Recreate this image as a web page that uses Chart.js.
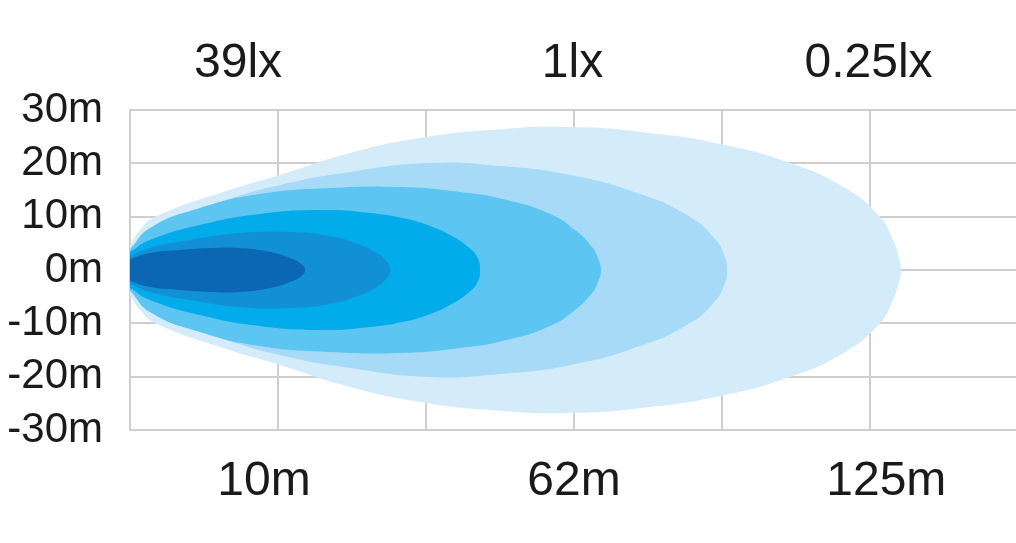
<!DOCTYPE html>
<html>
<head>
<meta charset="utf-8">
<script src="https://cdn.jsdelivr.net/npm/chart.js@4/dist/chart.umd.min.js"></script>
<style>
  html, body { margin: 0; padding: 0; background: #fff; overflow: hidden; }
  #wrap { width: 1030px; height: 543px; }
</style>
</head>
<body>
<div id="wrap"><canvas id="beam" width="1030" height="543"></canvas></div>
<script>
// Beam pattern: x in grid cells (0..6), y = half width in metres
// each zone is [distance, halfWidth] along the top edge, mirrored below
const zone1 = [[0, 2.06], [0.135, 3.19], [0.338, 3.75], [0.541, 4.13], [0.743, 4.13], [0.946, 3.38], [1.081, 2.25], [1.149, 1.31], [1.182, 0]];
const zone2 = [[0, 2.63], [0.135, 4.13], [0.405, 5.63], [0.743, 6.94], [1.081, 7.13], [1.351, 6.38], [1.52, 5.06], [1.655, 3.38], [1.73, 1.69], [1.757, 0]];
const zone3 = [[0, 3.38], [0.135, 5.63], [0.473, 8.44], [0.878, 10.5], [1.284, 11.25], [1.622, 10.69], [1.872, 9.56], [2.027, 8.25], [2.162, 6.56], [2.284, 4.31], [2.345, 2.44], [2.365, 0]];
const zone4 = [[0, 3.75], [0.135, 7.88], [0.473, 11.63], [0.878, 14.25], [1.351, 15.38], [1.824, 15.56], [2.23, 14.63], [2.547, 13.13], [2.838, 10.5], [3.007, 7.5], [3.122, 4.31], [3.162, 2.25], [3.182, 0]];
const zone5 = [[0, 4.13], [0.155, 8.06], [0.608, 12.75], [1.014, 15.94], [1.486, 18.38], [2.027, 20.06], [2.5, 19.5], [2.973, 17.81], [3.446, 14.25], [3.784, 9.94], [3.953, 5.81], [4.014, 2.81], [4.034, 0]];
const zone6 = [[0, 4.69], [0.068, 7.5], [0.169, 9.94], [0.608, 14.44], [1.014, 17.81], [1.486, 21.94], [1.959, 24.75], [2.432, 26.25], [2.973, 26.81], [3.514, 25.69], [3.986, 23.63], [4.459, 20.06], [4.831, 15.38], [5.068, 9.94], [5.155, 5.63], [5.196, 2.25], [5.209, 0]];

const zoneColors = ['#0b67b4', '#1190d5', '#02abe9', '#5cc5f1', '#a7daf6', '#d4ebfa'];

const luxTicks = [0.73, 2.99, 4.99];
const luxLabels = ['39lx', '1lx', '0.25lx'];
const distTicks = [0.905, 3.0, 5.11];
const distLabels = ['10m', '62m', '125m'];

const GRID = '#cfcfcf';
const FONT = 'Liberation Sans, Arial, sans-serif';

// turn a half profile into a closed outline
function outline(zone) {
    const top = zone.map(([x, h]) => ({ x: x, y: h }));
    const bottom = zone.slice(0, -1).reverse().map(([x, h]) => ({ x: x, y: -h }));
    return top.concat(bottom);
}

const zones = [zone1, zone2, zone3, zone4, zone5, zone6];

new Chart(document.getElementById('beam'), {
    type: 'line',
    data: {
        // innermost first so it ends up painted on top
        datasets: zones.map((z, i) => ({
            data: outline(z),
            backgroundColor: zoneColors[i],
            borderColor: 'rgba(0,0,0,0)',
            borderWidth: 0,
            pointRadius: 0,
            tension: 0.5,
            fill: 'shape',
            xAxisID: 'x',
            yAxisID: 'y'
        }))
    },
    options: {
        responsive: false,
        animation: false,
        layout: { padding: { left: 0, right: 12, top: 0, bottom: 0 } },
        plugins: { legend: { display: false }, tooltip: { enabled: false } },
        scales: {
            x: {
                type: 'linear',
                position: 'bottom',
                min: 0,
                max: 6,
                weight: 0,
                ticks: { display: false, stepSize: 1 },
                grid: { color: GRID, lineWidth: 2, drawTicks: false },
                border: { color: GRID, width: 2 },
                afterFit: (s) => { s.height = 0; }
            },
            dist: {
                type: 'linear',
                position: 'bottom',
                min: 0,
                max: 6,
                weight: 1,
                grid: { display: false, drawTicks: false },
                border: { display: false },
                afterBuildTicks: (s) => { s.ticks = distTicks.map(v => ({ value: v })); },
                ticks: {
                    autoSkip: false,
                    maxRotation: 0,
                    padding: 23,
                    color: '#1a1a1a',
                    font: { family: FONT, size: 48 },
                    callback: (v, i) => distLabels[i]
                },
                afterFit: (s) => { s.height = 113; }
            },
            lux: {
                type: 'linear',
                position: 'top',
                min: 0,
                max: 6,
                grid: { display: false, drawTicks: false },
                border: { display: false },
                afterBuildTicks: (s) => { s.ticks = luxTicks.map(v => ({ value: v })); },
                ticks: {
                    autoSkip: false,
                    maxRotation: 0,
                    padding: 17,
                    color: '#1a1a1a',
                    font: { family: FONT, size: 48 },
                    callback: (v, i) => luxLabels[i]
                },
                afterFit: (s) => { s.height = 110; }
            },
            y: {
                type: 'linear',
                position: 'left',
                min: -30,
                max: 30,
                ticks: {
                    stepSize: 10,
                    autoSkip: false,
                    padding: 27,
                    color: '#1a1a1a',
                    font: { family: FONT, size: 42 },
                    callback: (v) => v + 'm'
                },
                grid: { color: GRID, lineWidth: 2, drawTicks: false },
                border: { color: GRID, width: 2 },
                afterFit: (s) => { s.width = 130; }
            }
        }
    }
});
</script>
</body>
</html>
